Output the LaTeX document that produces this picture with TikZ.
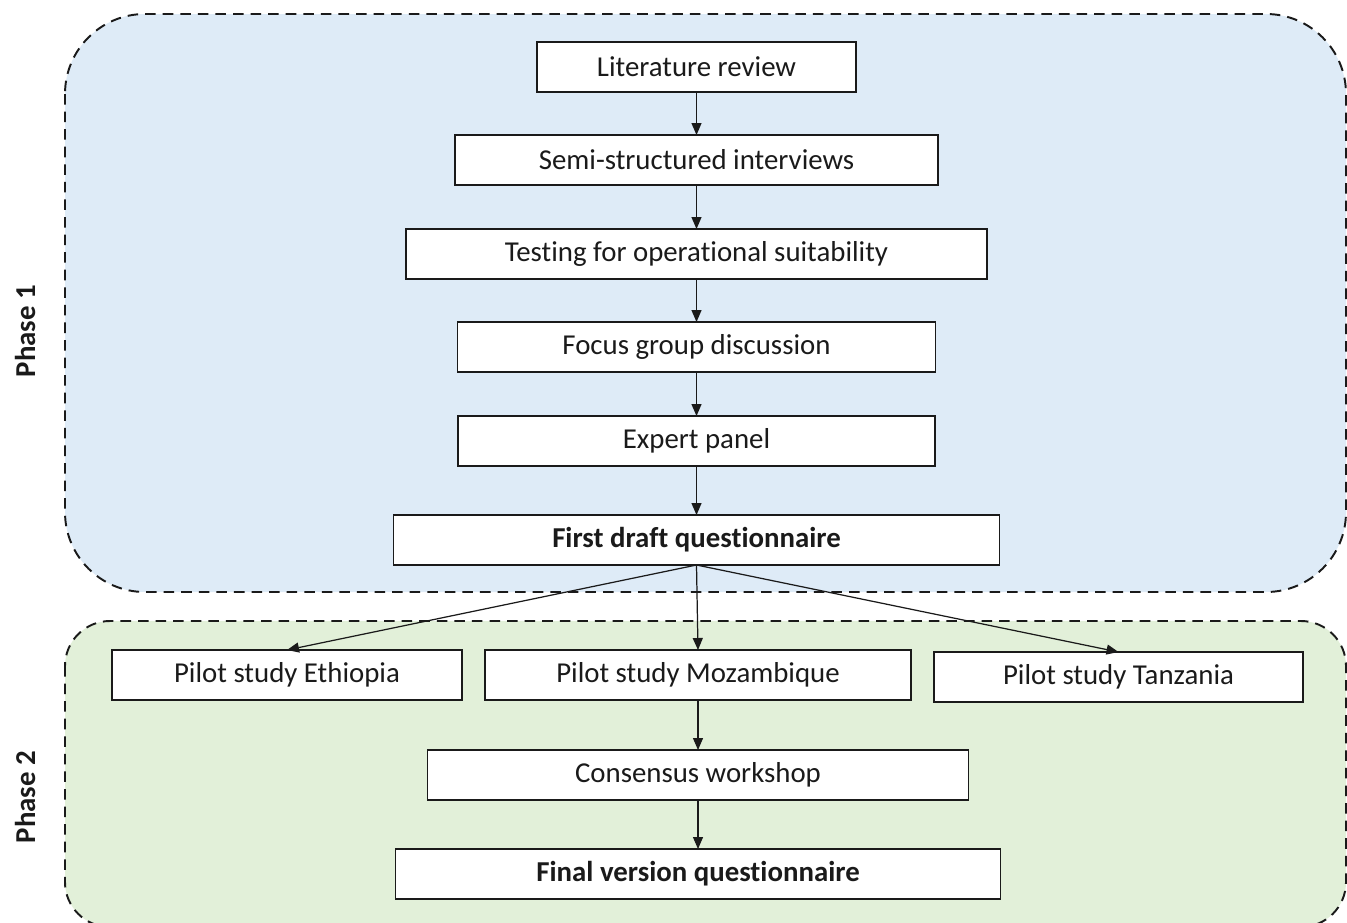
\documentclass[tikz,border=0pt]{standalone}
\usepackage{fontspec}
\setmainfont{Carlito}[Ligatures=NoCommon]
\usepackage{tikz}
\usetikzlibrary{arrows.meta,positioning}
\definecolor{PhaseBlue}{HTML}{DEEBF7}
\definecolor{PhaseGreen}{HTML}{E2F0D9}
\definecolor{BoxInk}{HTML}{1A1A1A}

\begin{document}
\begin{tikzpicture}[every node/.style={font=\fontsize{16.4}{19}\selectfont, text=BoxInk},
    stepbox/.style={draw=BoxInk, line width=1.1pt, fill=white, minimum height=1cm, inner sep=0pt, outer sep=0pt, align=center},
    flow/.style={-{Triangle[length=2.4mm, width=2mm]}, line width=0.7pt, BoxInk},
    phasearea/.style={draw=BoxInk, line width=1.1pt, dash pattern=on 6pt off 4pt}]
    \clip (0,0) rectangle (26.94,-18.44);

    % phase areas
    \draw[phasearea, fill=PhaseBlue, rounded corners=1.6cm] (1.3,-0.28) rectangle (26.92,-11.84);
    \draw[phasearea, fill=PhaseGreen, rounded corners=0.9cm] (1.3,-12.42) rectangle (26.92,-18.54);

    \node[font=\fontsize{16.4}{19}\selectfont\bfseries, rotate=90] (phaseone) at (0.5,-6.62) {Phase 1};
    \node[font=\fontsize{16.4}{19}\selectfont\bfseries, rotate=90] (phasetwo) at (0.5,-15.94) {Phase 2};

    % phase 1
    \node[stepbox, minimum width=6.38cm] (lit) at (13.93,-1.34) {Literature review};
    \node[stepbox, minimum width=9.66cm, below=0.86cm of lit] (interviews) {Semi-structured interviews};
    \node[stepbox, minimum width=11.62cm, below=0.88cm of interviews] (testing) {Testing for operational suitability};
    \node[stepbox, minimum width=9.56cm, below=0.86cm of testing] (focus) {Focus group discussion};
    \node[stepbox, minimum width=9.54cm, below=0.88cm of focus] (expert) {Expert panel};
    \node[stepbox, minimum width=12.12cm, below=0.98cm of expert, font=\fontsize{16.4}{19}\selectfont\bfseries] (draft) {First draft questionnaire};

    % phase 2
    \node[stepbox, minimum width=8.52cm, below=1.7cm of draft, xshift=0.03cm] (moz) {Pilot study Mozambique};
    \node[stepbox, minimum width=7.0cm, left=0.46cm of moz] (eth) {Pilot study Ethiopia};
    \node[stepbox, minimum width=7.38cm, right=0.46cm of moz, yshift=-0.04cm] (tza) {Pilot study Tanzania};
    \node[stepbox, minimum width=10.82cm, below=1.0cm of moz] (workshop) {Consensus workshop};
    \node[stepbox, minimum width=12.1cm, below=0.98cm of workshop, font=\fontsize{16.4}{19}\selectfont\bfseries] (final) {Final version questionnaire};

    \draw[flow] (lit) -- (interviews);
    \draw[flow] (interviews) -- (testing);
    \draw[flow] (testing) -- (focus);
    \draw[flow] (focus) -- (expert);
    \draw[flow] (expert) -- (draft);
    \draw[flow] (draft.south) -- (eth.north);
    \draw[flow] (draft.south) -- (moz.north);
    \draw[flow] (draft.south) -- (tza.north);
    \draw[flow] (moz) -- (workshop);
    \draw[flow] (workshop) -- (final);
  \end{tikzpicture}
\end{document}
